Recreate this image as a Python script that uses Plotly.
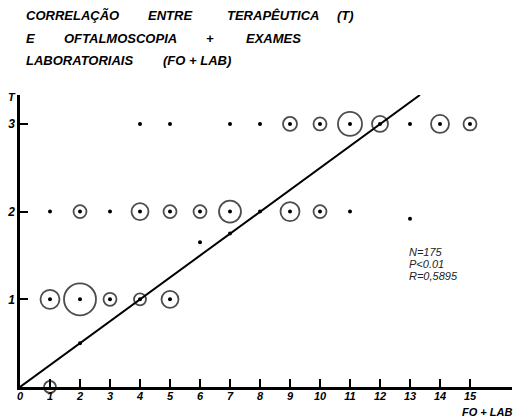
import plotly.graph_objects as go

# FO + LAB score (x), therapy level T (y), circle diameter (0 = single dot only)
fo_lab =      [4, 5, 7, 8, 9, 10, 11, 12, 13, 14, 15,
               1, 2, 3, 4, 5, 6, 7, 8, 9, 10, 11,
               1, 2, 3, 4, 5,
               1,
               2, 6, 7, 13]
terapeutica = [3, 3, 3, 3, 3, 3, 3, 3, 3, 3, 3,
               2, 2, 2, 2, 2, 2, 2, 2, 2, 2, 2,
               1, 1, 1, 1, 1,
               0,
               0.5, 1.65, 1.75, 1.92]
circle_size = [0, 0, 0, 0, 14, 13, 24, 16, 0, 18, 13,
               0, 13, 0, 17, 13, 13, 22, 0, 19, 13, 0,
               19, 32, 13, 12, 17,
               12,
               0, 0, 0, 0]
has_dot =     [1] * 27 + [0] + [1, 1, 1, 1]

reg_x = [0, 13.33]
reg_y = [0, 3.33]

x_ticks = list(range(0, 16))
y_ticks = [1, 2, 3]

title_words = [
    ("CORRELAÇÃO", 24, 15), ("ENTRE", 146, 15), ("TERAPÊUTICA", 225, 15), ("(T)", 335, 15),
    ("E", 24, 38), ("OFTALMOSCOPIA", 62, 38), ("+", 204, 38), ("EXAMES", 244, 38),
    ("LABORATORIAIS", 24, 60), ("(FO + LAB)", 161, 60),
]
stats_lines = ["N=175", "P<0.01", "R=0,5895"]

W, H = 522, 418
ML, MR, MT, MB = 20, 10, 95, 31
PW, PH = W - ML - MR, H - MT - MB

def px(x, y):
    return (x - ML) / PW, (H - MB - y) / PH

FONT = "Liberation Sans"

fig = go.Figure()

fig.add_trace(go.Scatter(
    x=reg_x, y=reg_y, mode="lines",
    line=dict(color="black", width=2), hoverinfo="skip", showlegend=False))

cx = [x for x, s in zip(fo_lab, circle_size) if s > 0]
cy = [y for y, s in zip(terapeutica, circle_size) if s > 0]
cs = [s for s in circle_size if s > 0]
fig.add_trace(go.Scatter(
    x=cx, y=cy, mode="markers",
    marker=dict(symbol="circle-open", size=cs, color="black", line=dict(width=1.8, color="black")),
    cliponaxis=False, showlegend=False))

dx = [x for x, d in zip(fo_lab, has_dot) if d]
dy = [y for y, d in zip(terapeutica, has_dot) if d]
fig.add_trace(go.Scatter(
    x=dx, y=dy, mode="markers",
    marker=dict(symbol="circle", size=4, color="black"),
    cliponaxis=False, showlegend=False))

annotations = []
for word, x0, y0 in title_words:
    ax, ay = px(x0, y0)
    annotations.append(dict(x=ax, y=ay, xref="paper", yref="paper", text=f"<b><i>{word}</i></b>",
                            showarrow=False, xanchor="left", yanchor="middle",
                            font=dict(family=FONT, size=13, color="black")))
for i, line in enumerate(stats_lines):
    ax, ay = px(407, 252 + i * 12)
    annotations.append(dict(x=ax, y=ay, xref="paper", yref="paper", text=f"<i>{line}</i>",
                            showarrow=False, xanchor="left", yanchor="middle",
                            font=dict(family=FONT, size=11, color="#222")))
ax, ay = px(514, 412)
annotations.append(dict(x=ax, y=ay, xref="paper", yref="paper", text="<b><i>FO + LAB</i></b>",
                        showarrow=False, xanchor="right", yanchor="middle",
                        font=dict(family=FONT, size=11, color="black")))
ax, ay = px(12, 97)
annotations.append(dict(x=ax, y=ay, xref="paper", yref="paper", text="<b><i>T</i></b>",
                        showarrow=False, xanchor="center", yanchor="middle",
                        font=dict(family=FONT, size=11, color="black")))

fig.update_layout(
    width=W, height=H,
    margin=dict(l=ML, r=MR, t=MT, b=MB),
    plot_bgcolor="white", paper_bgcolor="white",
    annotations=annotations,
    xaxis=dict(range=[0, 16.4], tickvals=x_ticks, ticktext=[f"<b><i>{t}</i></b>" for t in x_ticks],
               ticks="inside", ticklen=8, tickwidth=2, tickcolor="black",
               showline=True, linecolor="black", linewidth=2.5,
               showgrid=False, zeroline=False, automargin=False,
               ticklabelstandoff=-3,
               tickfont=dict(family=FONT, size=11, color="black")),
    yaxis=dict(range=[0, 3.33], tickvals=y_ticks, ticktext=[f"<b><i>{t}</i></b>" for t in y_ticks],
               ticks="inside", ticklen=8, tickwidth=1.5, tickcolor="black",
               showline=True, linecolor="black", linewidth=2.5,
               showgrid=False, zeroline=False, automargin=False,
               tickfont=dict(family=FONT, size=12, color="black")),
)

fig.write_html("out.html", config={"displayModeBar": False},
               post_script="document.body.style.margin='0';document.body.style.overflow='hidden';")
